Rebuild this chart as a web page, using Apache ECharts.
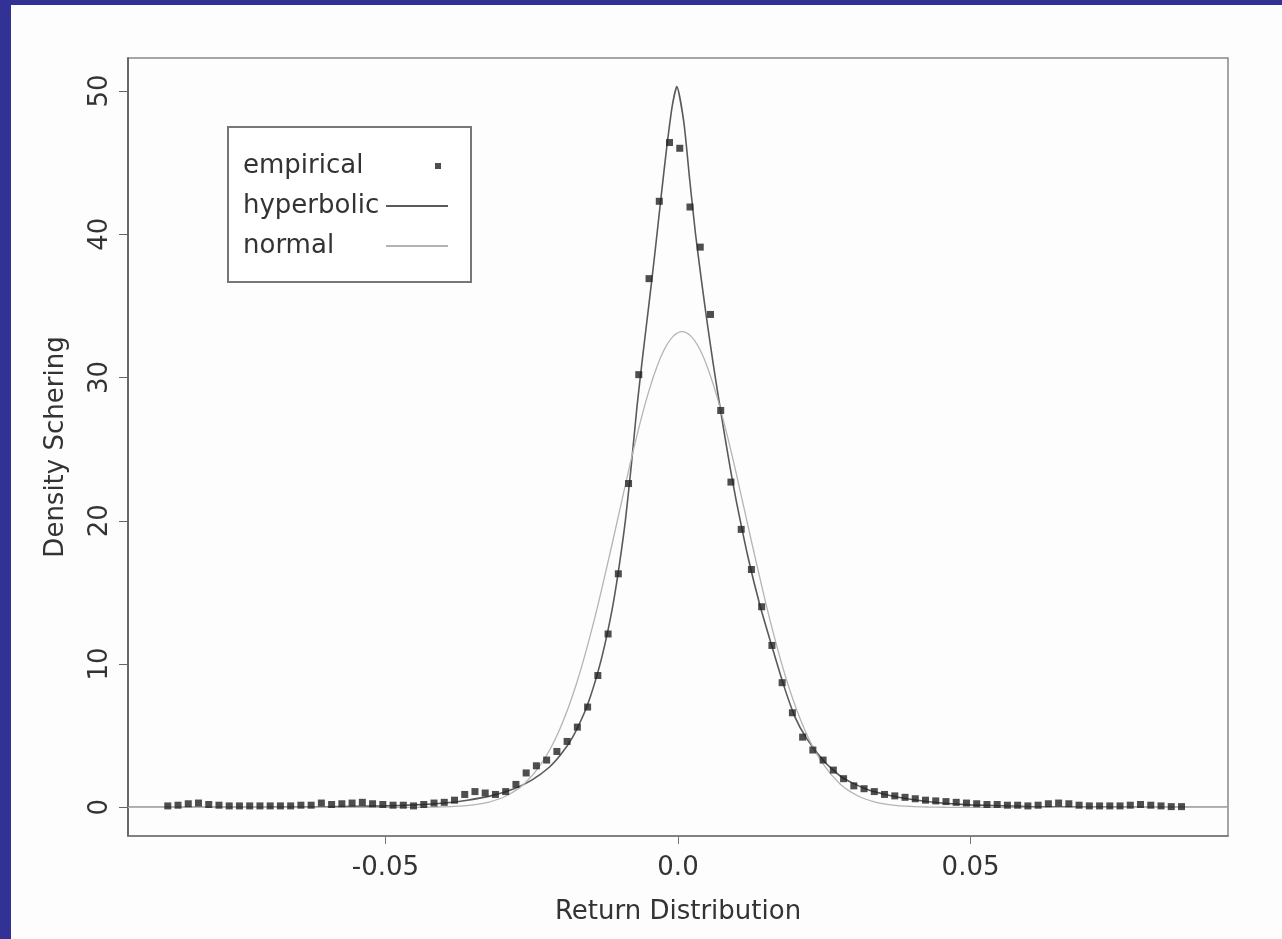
<!DOCTYPE html>
<html>
<head>
<meta charset="utf-8">
<script src="https://cdn.jsdelivr.net/npm/echarts@6/dist/echarts.min.js"></script>
<style>
html, body { margin: 0; padding: 0; width: 1282px; height: 939px; background: #323296; overflow: hidden; }
#chart { position: absolute; left: 11px; top: 5px; width: 1271px; height: 934px; }
</style>
</head>
<body>
<div id="chart"></div>
<script>
// empirical density points (return, density)
const empX = [-0.0872, -0.08545, -0.0837, -0.08195, -0.0802, -0.07845, -0.0767, -0.07495, -0.0732, -0.07145,
  -0.0697, -0.06795, -0.0662, -0.06445, -0.0627, -0.06095, -0.0592, -0.05745, -0.0557, -0.05395,
  -0.0522, -0.05045, -0.0487, -0.04695, -0.0452, -0.04345, -0.0417, -0.03995, -0.0382, -0.03645,
  -0.0347, -0.03295, -0.0312, -0.02945, -0.0277, -0.02595, -0.0242, -0.02245, -0.0207, -0.01895,
  -0.0172, -0.01545, -0.0137, -0.01195, -0.0102, -0.00845, -0.0067, -0.00495, -0.0032, -0.00145,
  0.0003, 0.00205, 0.0038, 0.00555, 0.0073, 0.00905, 0.0108, 0.01255, 0.0143, 0.01605,
  0.0178, 0.01955, 0.0213, 0.02305, 0.0248, 0.02655, 0.0283, 0.03005, 0.0318, 0.03355,
  0.0353, 0.03705, 0.0388, 0.04055, 0.0423, 0.04405, 0.0458, 0.04755, 0.0493, 0.05105,
  0.0528, 0.05455, 0.0563, 0.05805, 0.0598, 0.06155, 0.0633, 0.06505, 0.0668, 0.06855,
  0.0703, 0.07205, 0.0738, 0.07555, 0.0773, 0.07905, 0.0808, 0.08255, 0.0843, 0.08605];
const empY = [0.1, 0.15, 0.25, 0.3, 0.2, 0.15, 0.1, 0.1, 0.1, 0.1,
  0.1, 0.1, 0.1, 0.15, 0.15, 0.3, 0.2, 0.25, 0.3, 0.35,
  0.25, 0.2, 0.15, 0.15, 0.1, 0.2, 0.3, 0.35, 0.5, 0.9,
  1.1, 1.0, 0.9, 1.1, 1.6, 2.4, 2.9, 3.3, 3.9, 4.6,
  5.6, 7.0, 9.2, 12.1, 16.3, 22.6, 30.2, 36.9, 42.3, 46.4,
  46.0, 41.9, 39.1, 34.4, 27.7, 22.7, 19.4, 16.6, 14.0, 11.3,
  8.7, 6.6, 4.9, 4.0, 3.3, 2.6, 2.0, 1.5, 1.3, 1.1,
  0.9, 0.8, 0.7, 0.6, 0.5, 0.45, 0.4, 0.35, 0.3, 0.25,
  0.2, 0.2, 0.15, 0.15, 0.1, 0.15, 0.25, 0.3, 0.25, 0.15,
  0.1, 0.1, 0.1, 0.1, 0.15, 0.2, 0.15, 0.1, 0.05, 0.05];

// fitted hyperbolic density
const hypX = [-0.094, -0.08, -0.07, -0.06, -0.05, -0.045, -0.04, -0.036, -0.032, -0.028,
  -0.025, -0.022, -0.02, -0.018, -0.016, -0.015, -0.014, -0.013, -0.012, -0.011,
  -0.01, -0.009, -0.008, -0.007, -0.006, -0.005, -0.004, -0.003, -0.002, -0.001,
  -0.0002, 0.001, 0.002, 0.003, 0.004, 0.005, 0.006, 0.007, 0.008, 0.009,
  0.01, 0.012, 0.014, 0.016, 0.018, 0.02, 0.022, 0.025, 0.028, 0.032,
  0.036, 0.04, 0.045, 0.05, 0.06, 0.07, 0.08, 0.094];
const hypY = [0.002, 0.006, 0.015, 0.04, 0.1, 0.17, 0.3, 0.5, 0.8, 1.3,
  1.9, 2.8, 3.7, 4.9, 6.6, 7.7, 9.0, 10.5, 12.3, 14.4,
  17.0, 20.0, 23.8, 28.0, 31.6, 35.0, 38.5, 42.2, 45.8, 48.9,
  50.3, 47.8, 43.8, 40.0, 36.8, 33.8, 31.0, 28.4, 25.9, 23.5,
  21.3, 17.4, 14.1, 11.3, 8.6, 6.3, 4.8, 3.2, 2.1, 1.3,
  0.85, 0.55, 0.3, 0.17, 0.06, 0.02, 0.008, 0.002];

// fitted normal density
const normX = [-0.094, -0.07, -0.06, -0.0473, -0.0443, -0.0413, -0.0383, -0.0353, -0.0323, -0.0293,
  -0.0263, -0.0233, -0.0203, -0.0173, -0.0143, -0.0113, -0.0083, -0.0068, -0.0053, -0.0038,
  -0.0023, -0.0008, 0.0007, 0.0022, 0.0037, 0.0052, 0.0067, 0.0082, 0.0097, 0.0127,
  0.0157, 0.0187, 0.0217, 0.0247, 0.0277, 0.0307, 0.0337, 0.0367, 0.0397, 0.0427,
  0.0457, 0.0487, 0.06, 0.07, 0.094];
const normY = [0, 0, 0, 0.0025, 0.0077, 0.0227, 0.062, 0.157, 0.37, 0.81,
  1.63, 3.08, 5.37, 8.7, 13.1, 18.31, 23.76, 26.31, 28.61, 30.53,
  31.99, 32.89, 33.2, 32.89, 31.99, 30.53, 28.61, 26.31, 23.76, 18.31,
  13.1, 8.7, 5.37, 3.08, 1.63, 0.81, 0.37, 0.157, 0.062, 0.0227,
  0.0077, 0.0025, 0, 0, 0];

const xTicks = [-0.05, 0, 0.05];
const yTicks = [0, 10, 20, 30, 40, 50];

const font = 'DejaVu Sans';
const textColor = '#333';

function zip(xs, ys) {
  return xs.map((x, i) => [x, ys[i]]);
}

let myChart = echarts.init(document.getElementById('chart'));

let option = {
  animation: false,
  backgroundColor: '#fdfdfd',
  grid: {
    left: 117,
    top: 53,
    right: 54,
    bottom: 103,
    show: true,
    borderColor: '#888',
    borderWidth: 1.5
  },
  legend: {
    orient: 'vertical',
    align: 'right',
    left: 217,
    top: 122,
    padding: [26, 22, 23, 15],
    itemGap: 14,
    itemWidth: 62,
    itemHeight: 14,
    borderColor: '#777',
    borderWidth: 2,
    backgroundColor: '#fff',
    formatter: name => '{t|' + name + '}',
    textStyle: {
      fontFamily: font,
      fontSize: 26,
      color: textColor,
      rich: {
        t: { width: 138, align: 'left', fontFamily: font, fontSize: 26, color: textColor }
      }
    },
    data: [
      { name: 'empirical', icon: 'path://M0,0M62,14M49,4L55,4L55,10L49,10Z' },
      { name: 'hyperbolic', itemStyle: { opacity: 0 } },
      { name: 'normal', itemStyle: { opacity: 0 } }
    ]
  },
  xAxis: {
    type: 'value',
    min: -0.094,
    max: 0.094,
    name: 'Return Distribution',
    nameLocation: 'middle',
    nameGap: 63,
    nameTextStyle: { fontFamily: font, fontSize: 26, color: textColor },
    axisLine: { onZero: false, lineStyle: { color: '#777', width: 1.5 } },
    axisTick: { customValues: xTicks, length: 8, lineStyle: { color: '#777' } },
    axisLabel: {
      customValues: xTicks,
      margin: 19,
      fontFamily: font,
      fontSize: 26,
      color: textColor,
      formatter: v => (v === 0 ? '0.0' : v.toFixed(2))
    },
    splitLine: { show: false }
  },
  yAxis: {
    type: 'value',
    min: -2,
    max: 52.3,
    name: 'Density Schering',
    nameLocation: 'middle',
    nameGap: 59,
    nameRotate: 90,
    nameTextStyle: { fontFamily: font, fontSize: 26, color: textColor },
    axisLine: { show: true, onZero: false, lineStyle: { color: '#555', width: 1.5 } },
    axisTick: { show: true, customValues: yTicks, length: 9, lineStyle: { color: '#666' } },
    axisLabel: {
      customValues: yTicks,
      rotate: 90,
      margin: 15,
      fontFamily: font,
      fontSize: 26,
      color: textColor
    },
    splitLine: { show: false }
  },
  series: [{
    name: 'empirical',
    type: 'scatter',
    symbol: 'rect',
    symbolSize: 7,
    itemStyle: { color: '#222' },
    z: 3,
    data: zip(empX, empY)
  }, {
    name: 'hyperbolic',
    type: 'line',
    symbol: 'none',
    smooth: 0.2,
    itemStyle: { color: '#5a5a5a' },
    lineStyle: { color: '#5a5a5a', width: 1.6 },
    data: zip(hypX, hypY)
  }, {
    name: 'normal',
    type: 'line',
    symbol: 'none',
    smooth: 0.3,
    itemStyle: { color: '#b4b4b4' },
    lineStyle: { color: '#b4b4b4', width: 1.3 },
    data: zip(normX, normY)
  }]
};

myChart.setOption(option);
</script>
</body>
</html>
